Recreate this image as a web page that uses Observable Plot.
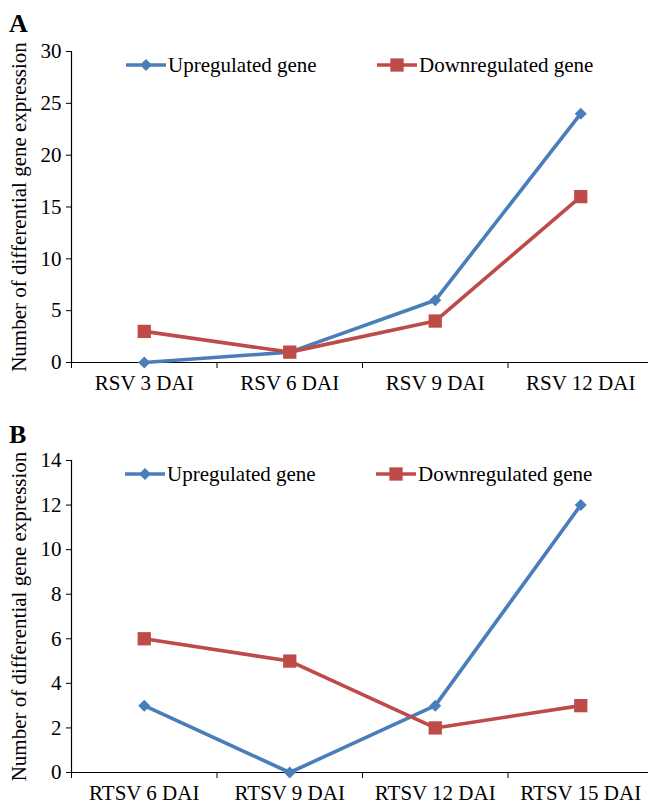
<!DOCTYPE html>
<html>
<head>
<meta charset="utf-8">
<script src="https://cdn.jsdelivr.net/npm/d3@7"></script>
<script src="https://cdn.jsdelivr.net/npm/@observablehq/plot@0.6"></script>
<style>
  html, body { margin: 0; padding: 0; background: #fff; }
  #root { position: relative; width: 648px; height: 806px; overflow: hidden; font-family: serif; }
  .panel { position: absolute; left: 0; }
  .letter { position: absolute; font-weight: bold; font-size: 26px; line-height: 1; }
  .legend { position: absolute; font-size: 21px; display: flex; align-items: center; white-space: nowrap; line-height: 1; }
  .legend svg { display: block; }
</style>
</head>
<body>
<div id="root"></div>
<script>
// ---- data ----
const seriesNames = ["Upregulated gene", "Downregulated gene"];
const seriesColors = ["#4a7ebb", "#be4b48"];
const seriesSymbols = ["diamond2", "square"];

const catsA = ["RSV 3 DAI", "RSV 6 DAI", "RSV 9 DAI", "RSV 12 DAI"];
const upA = [0, 1, 6, 24];
const downA = [3, 1, 4, 16];
const yTicksA = [0, 5, 10, 15, 20, 25, 30];

const catsB = ["RTSV 6 DAI", "RTSV 9 DAI", "RTSV 12 DAI", "RTSV 15 DAI"];
const upB = [3, 0, 3, 12];
const downB = [6, 5, 2, 3];
const yTicksB = [0, 2, 4, 6, 8, 10, 12, 14];

const yLabel = "Number of differential gene expression";
const markerR = [5.4, 7.5];
const FONT = "serif";

function rows(cats, up, down) {
  const out = [];
  cats.forEach((c, i) => {
    out.push({pos: i + 0.5, cat: c, value: up[i], series: seriesNames[0]});
  });
  cats.forEach((c, i) => {
    out.push({pos: i + 0.5, cat: c, value: down[i], series: seriesNames[1]});
  });
  return out;
}

function panel(cats, up, down, yTicks, opts) {
  const data = rows(cats, up, down);
  const n = cats.length;
  const bounds = d3.range(0, n + 1);
  const centers = cats.map((c, i) => i + 0.5);
  return Plot.plot({
    width: 648,
    height: opts.height,
    marginLeft: 71,
    marginRight: 0,
    marginTop: opts.top,
    marginBottom: opts.bottom,
    style: {fontFamily: FONT, fontSize: "21px", color: "#000", background: "#fff"},
    x: {domain: [0, n], range: [71, 653]},
    y: {domain: [0, yTicks[yTicks.length - 1]]},
    color: {domain: seriesNames, range: seriesColors},
    symbol: {domain: seriesNames, range: seriesSymbols},
    marks: [
      Plot.axisY({ticks: yTicks, tickSize: 5, tickPadding: 5, fontSize: 21, fontFamily: FONT, label: yLabel, labelAnchor: "center", labelArrow: "none", labelOffset: 60, stroke: "#000"}),
      Plot.axisX({ticks: bounds, tickSize: 6, tickFormat: () => "", label: null, stroke: "#000"}),
      Plot.axisX({ticks: centers, tickSize: 0, tickPadding: 13, fontSize: 21, fontFamily: FONT, tickFormat: d => cats[Math.round(d - 0.5)], label: null}),
      Plot.ruleY([0], {stroke: "#000", strokeWidth: 1.2}),
      Plot.ruleX([0], {stroke: "#000", strokeWidth: 1.2}),
      Plot.line(data, {x: "pos", y: "value", z: "series", stroke: "series", strokeWidth: 3.6}),
      ...seriesNames.map((s, k) =>
        Plot.dot(data.filter(d => d.series === s), {x: "pos", y: "value", fill: "series", symbol: "series", r: markerR[k], stroke: "none"})
      )
    ]
  });
}

const root = document.getElementById("root");

function addPanel(top, el) {
  const d = document.createElement("div");
  d.className = "panel";
  d.style.top = top + "px";
  d.appendChild(el);
  root.appendChild(d);
}

addPanel(0, panel(catsA, upA, downA, yTicksA, {height: 410, top: 51, bottom: 48}));
addPanel(410, panel(catsB, upB, downB, yTicksB, {height: 396, top: 50, bottom: 34}));

function letter(txt, x, y) {
  const d = document.createElement("div");
  d.className = "letter";
  d.textContent = txt;
  d.style.left = x + "px";
  d.style.top = y + "px";
  root.appendChild(d);
}
letter("A", 9, 11);
letter("B", 9, 422);

function legendItem(i, x, yc) {
  const d = document.createElement("div");
  d.className = "legend";
  d.style.left = x + "px";
  d.style.top = (yc - 12) + "px";
  d.style.height = "24px";
  const w = 40;
  const ns = "http://www.w3.org/2000/svg";
  const svg = document.createElementNS(ns, "svg");
  svg.setAttribute("width", w);
  svg.setAttribute("height", 24);
  const ln = document.createElementNS(ns, "line");
  ln.setAttribute("x1", 0); ln.setAttribute("x2", w);
  ln.setAttribute("y1", 12); ln.setAttribute("y2", 12);
  ln.setAttribute("stroke", seriesColors[i]); ln.setAttribute("stroke-width", 3.6);
  svg.appendChild(ln);
  const sym = document.createElementNS(ns, "path");
  const r = markerR[i];
  const gen = d3.symbol(i === 0 ? d3.symbolDiamond2 : d3.symbolSquare, Math.PI * r * r);
  sym.setAttribute("d", gen());
  sym.setAttribute("transform", `translate(${w / 2},12)`);
  sym.setAttribute("fill", seriesColors[i]);
  svg.appendChild(sym);
  d.appendChild(svg);
  const t = document.createElement("span");
  t.textContent = seriesNames[i];
  t.style.marginLeft = "2px";
  d.appendChild(t);
  root.appendChild(d);
}
legendItem(0, 126, 65);
legendItem(1, 377, 65);
legendItem(0, 125, 474);
legendItem(1, 376, 474);
</script>
</body>
</html>
